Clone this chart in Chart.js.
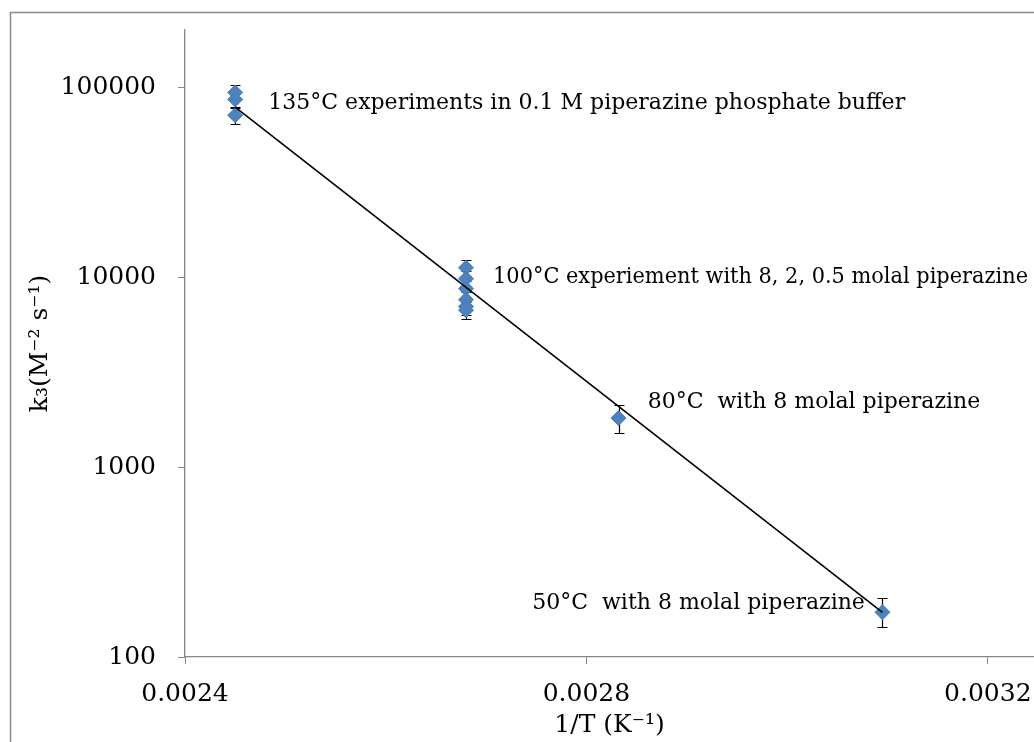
<!DOCTYPE html>
<html>
<head>
<meta charset="utf-8">
<script src="https://cdn.jsdelivr.net/npm/chart.js@4.4.1/dist/chart.umd.min.js"></script>
<style>
  html, body { margin: 0; padding: 0; background: #fff; }
  canvas { display: block; }
</style>
</head>
<body>
<canvas id="arrhenius" width="1034" height="742"></canvas>
<script>
// measured points: 1/T (K^-1) and k3 (M^-2 s^-1)
const invT = [0.00245, 0.00245, 0.00245, 0.00268, 0.00268, 0.00268, 0.00268, 0.00268, 0.00268, 0.002832, 0.003095];
const k3 = [93800, 86200, 71200, 11200, 9800, 8700, 7600, 7000, 6700, 1810, 172];
const errPlus = [9400, 8600, 7100, 1120, 980, 870, 760, 700, 670, 320, 32];
const errMinus = [9400, 8600, 7100, 1120, 980, 870, 760, 700, 670, 300, 29];

// exponential trend line (end points)
const trendX = [0.00245, 0.003095];
const trendY = [78500, 172];

const xTicks = [0.0024, 0.0028, 0.0032];
const yTicks = [100, 1000, 10000, 100000];

// notes next to the groups, anchored in data units (left edge, middle)
const noteText = [
  "135°C experiments in 0.1 M piperazine phosphate buffer",
  "100°C experiement with 8, 2, 0.5 molal piperazine",
  "80°C  with 8 molal piperazine",
  "50°C  with 8 molal piperazine"
];
const noteX = [0.002483, 0.002707, 0.002861, 0.002746];
const noteY = [82000, 10000, 2180, 191];

const serif = "'DejaVu Serif', serif";
const axisGray = "#868686";

// ===== plugins =====
const frame = {
  id: "frame",
  beforeDraw(chart) {
    const ctx = chart.ctx;
    ctx.save();
    ctx.fillStyle = "#fff";
    ctx.fillRect(0, 0, chart.width, chart.height);
    ctx.strokeStyle = "#8a8a8a";
    ctx.lineWidth = 1.5;
    ctx.strokeRect(10.5, 12.5, chart.width + 40, chart.height + 40);
    ctx.restore();
  },
};

const errorBars = {
  id: "errorBars",
  beforeDatasetsDraw(chart) {
    const { ctx, scales } = chart;
    ctx.save();
    ctx.strokeStyle = "#000";
    ctx.lineWidth = 1.2;
    invT.forEach((t, i) => {
      const px = Math.round(scales.x.getPixelForValue(t)) + 0.5;
      const top = Math.round(scales.y.getPixelForValue(k3[i] + errPlus[i])) + 0.5;
      const bot = Math.round(scales.y.getPixelForValue(k3[i] - errMinus[i])) + 0.5;
      ctx.beginPath();
      ctx.moveTo(px, top);
      ctx.lineTo(px, bot);
      ctx.moveTo(px - 5, top);
      ctx.lineTo(px + 5, top);
      ctx.moveTo(px - 5, bot);
      ctx.lineTo(px + 5, bot);
      ctx.stroke();
    });
    ctx.restore();
  },
};

const notes = {
  id: "notes",
  afterDatasetsDraw(chart) {
    const { ctx, scales } = chart;
    ctx.save();
    ctx.font = "22px " + serif;
    ctx.fillStyle = "#000";
    ctx.textAlign = "left";
    ctx.textBaseline = "middle";
    noteText.forEach((txt, i) => {
      const px = scales.x.getPixelForValue(noteX[i]);
      // keep the long 100°C note inside the picture, as in the original
      ctx.fillText(txt, px, scales.y.getPixelForValue(noteY[i]), chart.width - 6 - px);
    });
    ctx.restore();
  },
};

// ===== chart =====
new Chart(document.getElementById("arrhenius"), {
  type: "scatter",
  data: {
    datasets: [
      {
        label: "k3",
        data: invT.map((t, i) => ({ x: t, y: k3[i] })),
        pointStyle: "rectRot",
        pointRadius: 7.5,
        backgroundColor: "#4f81bd",
        borderColor: "#4a7ebb",
        borderWidth: 1,
        order: 1,
      },
      {
        label: "trend",
        data: trendX.map((t, i) => ({ x: t, y: trendY[i] })),
        showLine: true,
        pointRadius: 0,
        borderColor: "#000",
        borderWidth: 1.6,
        order: 0,
      },
    ],
  },
  options: {
    responsive: false,
    animation: false,
    layout: { autoPadding: false, padding: { left: 0, top: 30, right: 0, bottom: 0 } },
    plugins: { legend: { display: false }, tooltip: { enabled: false } },
    scales: {
      x: {
        type: "linear",
        position: "bottom",
        min: 0.0024,
        max: 0.003246,
        afterBuildTicks: (s) => { s.ticks = xTicks.map((v) => ({ value: v })); },
        afterFit: (s) => { s.height = 85; s.paddingLeft = 0; s.paddingRight = 0; },
        ticks: {
          callback: (v) => Number(v).toFixed(4),
          font: { family: serif, size: 25 },
          color: "#000",
          padding: 15,
          maxRotation: 0,
          autoSkip: false,
        },
        grid: { drawOnChartArea: false, drawTicks: true, tickLength: 7, color: axisGray },
        border: { color: axisGray, width: 1.3 },
        title: {
          display: true,
          text: "1/T (K⁻¹)",
          font: { family: serif, size: 25 },
          color: "#000",
          padding: { top: 0, bottom: 2 },
        },
      },
      y: {
        type: "logarithmic",
        min: 100,
        max: 200000,
        afterBuildTicks: (s) => { s.ticks = yTicks.map((v) => ({ value: v })); },
        afterFit: (s) => { s.width = 185; s.paddingTop = 0; s.paddingBottom = 0; },
        ticks: {
          callback: (v) => String(v),
          font: { family: serif, size: 25 },
          color: "#000",
          padding: 22,
          autoSkip: false,
        },
        grid: { drawOnChartArea: false, drawTicks: true, tickLength: 7, color: axisGray },
        border: { color: axisGray, width: 1.3 },
        title: {
          display: true,
          text: "k₃(M⁻² s⁻¹)",
          font: { family: serif, size: 25 },
          color: "#000",
          padding: { top: 25, bottom: 0 },
        },
      },
    },
  },
  plugins: [frame, errorBars, notes],
});
</script>
</body>
</html>
